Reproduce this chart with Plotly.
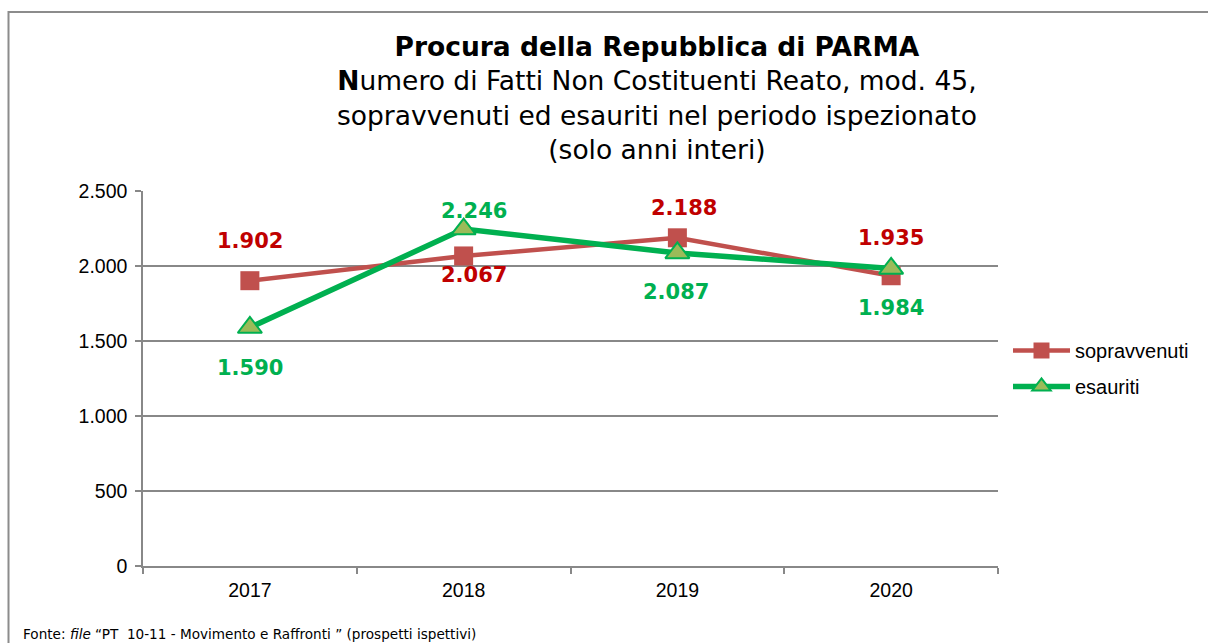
import plotly.graph_objects as go

years = ["2017", "2018", "2019", "2020"]
sopravvenuti = [1902, 2067, 2188, 1935]
esauriti = [1590, 2246, 2087, 1984]
y_ticks = [0, 500, 1000, 1500, 2000, 2500]
y_tick_text = ["0", "500", "1.000", "1.500", "2.000", "2.500"]

# label placement (pixel offsets from each point), style only
sop_label_dy = [40, -19, 30, 38]
sop_label_dx = [0, 10, 7, 0]
esa_label_dy = [-40, 18, -39, -40]
esa_label_dx = [0, 10, -1, 0]

W, H = 1208, 643
L, R, T, B = 143, 998, 191, 566

def fmt(v):
    return f"{v:,}".replace(",", ".")

def px2paper_x(px):
    return (px - L) / (R - L)

def px2paper_y(py):
    return (B - py) / (B - T)

fig = go.Figure()
fig.add_trace(go.Scatter(
    x=years, y=sopravvenuti, name="sopravvenuti", mode="lines+markers",
    legendgroup="a",
    line=dict(color="#C0504D", width=4.5),
    marker=dict(symbol="square", size=19, color="#C0504D"),
))
fig.add_trace(go.Scatter(
    x=years, y=esauriti, name="esauriti", mode="lines+markers",
    legendgroup="b",
    line=dict(color="#00B050", width=5.5),
    marker=dict(symbol="triangle-up", size=21, color="#9BBB59",
                line=dict(color="#00B050", width=2)),
))

annotations = []
for i, v in enumerate(sopravvenuti):
    annotations.append(dict(x=i, y=v, xref="x", yref="y", text=f"<b>{fmt(v)}</b>", showarrow=False,
                            yshift=sop_label_dy[i], xshift=sop_label_dx[i],
                            font=dict(family="DejaVu Sans", size=21, color="#C00000")))
for i, v in enumerate(esauriti):
    annotations.append(dict(x=i, y=v, xref="x", yref="y", text=f"<b>{fmt(v)}</b>", showarrow=False,
                            yshift=esa_label_dy[i], xshift=esa_label_dx[i],
                            font=dict(family="DejaVu Sans", size=21, color="#00B050")))

annotations.append(dict(
    xref="paper", yref="paper", x=px2paper_x(657), y=px2paper_y(29), xanchor="center", yanchor="top",
    showarrow=False, align="center",
    text=("<b>Procura della Repubblica di PARMA</b><br>"
          "<b>N</b>umero di Fatti Non Costituenti Reato, mod. 45,<br>"
          "sopravvenuti ed esauriti nel periodo ispezionato<br>"
          "(solo anni interi)"),
    font=dict(family="DejaVu Sans", size=26.5, color="#000000"),
))
annotations.append(dict(
    xref="paper", yref="paper", x=px2paper_x(21), y=px2paper_y(634), xanchor="left", yanchor="middle",
    showarrow=False, align="left",
    text="Fonte: <i>file</i> \u201cPT  10-11 - Movimento e Raffronti \u201d (prospetti ispettivi)",
    font=dict(family="DejaVu Sans", size=13.6, color="#000000"),
))

fig.update_layout(
    width=W, height=H,
    margin=dict(l=L, r=W - R, t=T, b=H - B),
    paper_bgcolor="white", plot_bgcolor="white",
    showlegend=True,
    legend=dict(x=px2paper_x(1008), y=px2paper_y(331), xanchor="left", yanchor="top",
                font=dict(family="Liberation Sans", size=20, color="#000000"),
                tracegroupgap=7, itemwidth=57, bgcolor="rgba(0,0,0,0)"),
    annotations=annotations,
    shapes=[dict(type="rect", xref="paper", yref="paper",
                 x0=px2paper_x(8.5), x1=px2paper_x(1230), y0=px2paper_y(670), y1=px2paper_y(12),
                 line=dict(color="#8C8C8C", width=2), layer="below")],
    font=dict(family="Liberation Sans"),
)
fig.update_xaxes(
    type="category", range=[-0.5, 3.5], showgrid=False,
    showline=True, linecolor="#888888", linewidth=1.5,
    ticks="outside", tickson="boundaries", ticklen=6, tickcolor="#888888", tickwidth=1.5,
    tickfont=dict(family="Liberation Sans", size=19.5, color="#000000"),
    ticklabelstandoff=6,
)
fig.update_yaxes(
    range=[0, 2500], tickvals=y_ticks, ticktext=y_tick_text,
    showgrid=True, gridcolor="#888888", gridwidth=1.5,
    showline=True, linecolor="#888888", linewidth=1.5,
    ticks="outside", ticklen=6, tickcolor="#888888", tickwidth=1.5,
    tickfont=dict(family="Liberation Sans", size=19.5, color="#000000"),
    ticklabelstandoff=4,
    zeroline=False,
)

fig.write_html("out.html", config={"displayModeBar": False},
               post_script="document.body.style.margin='0px';")
